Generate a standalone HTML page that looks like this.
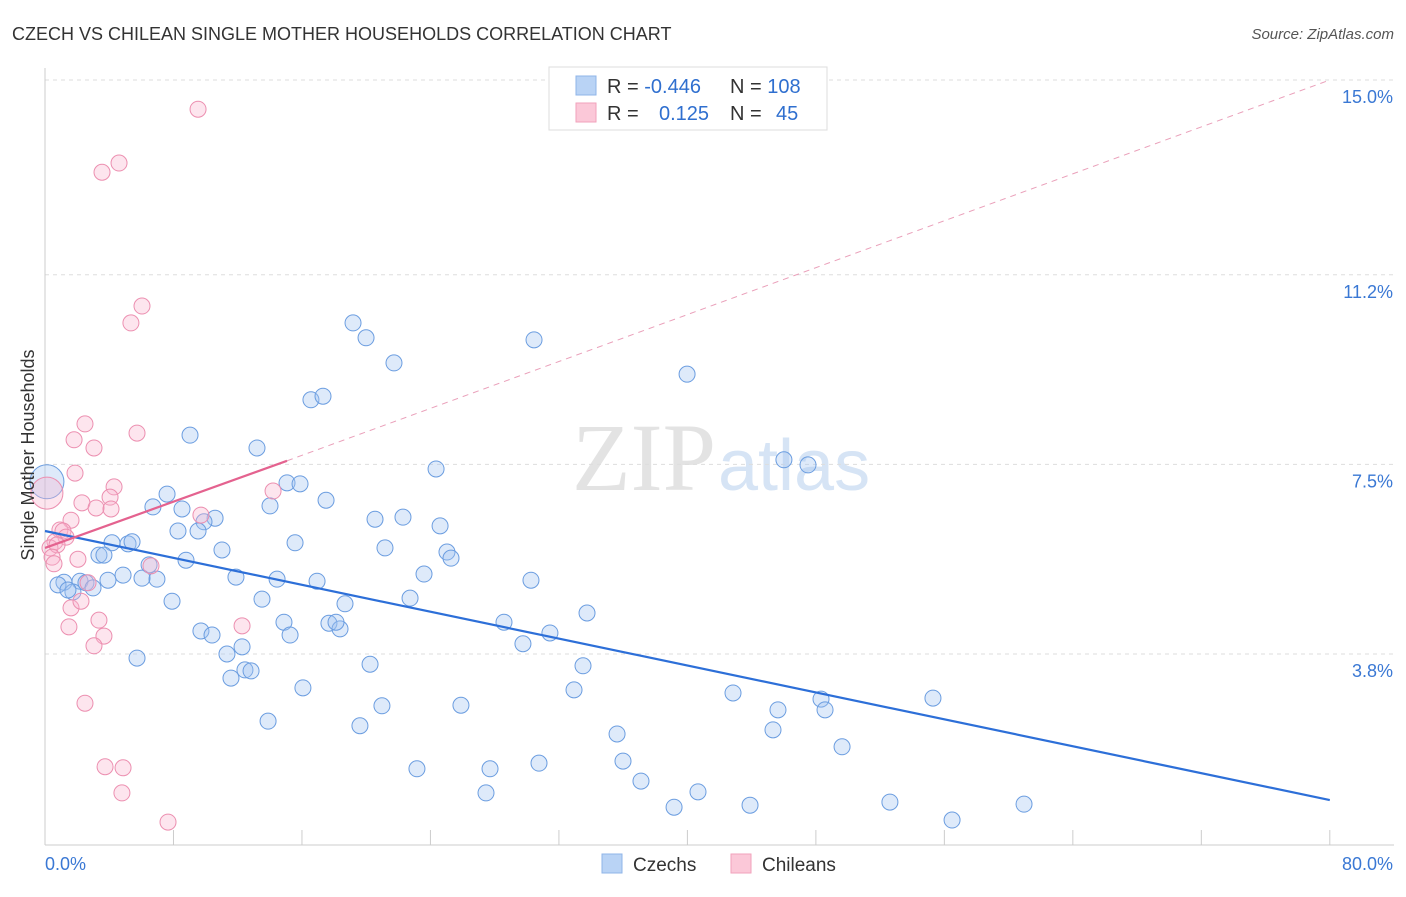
<!DOCTYPE html>
<html><head><meta charset="utf-8"><style>
body{margin:0;background:#fff;font-family:"Liberation Sans",sans-serif}
</style></head><body>
<svg id="chart" width="1406" height="892" xmlns="http://www.w3.org/2000/svg">
<text x="12" y="40" font-size="18" fill="#333">CZECH VS CHILEAN SINGLE MOTHER HOUSEHOLDS CORRELATION CHART</text>
<text x="1394" y="39" font-size="15" fill="#555" text-anchor="end" font-style="italic">Source: ZipAtlas.com</text>
<text x="716" y="490" font-size="96" fill="#e3e3e3" text-anchor="end" font-family="Liberation Serif,serif">ZIP</text>
<text x="718" y="490" font-size="72" fill="#d6e4f5">atlas</text>
<g id="grid"></g><g id="axes"></g><g id="marks"></g>
<text transform="translate(34,455) rotate(-90)" font-size="18" fill="#333" text-anchor="middle">Single Mother Households</text>
<g>
<rect x="549" y="67" width="278" height="63" fill="#fff" stroke="#ddd"/>
<rect x="576" y="76" width="20" height="19" fill="#b9d3f5" stroke="#8fb5e8"/>
<rect x="576" y="103" width="20" height="19" fill="#fbc8d8" stroke="#f1a2bb"/>
<text x="607" y="93" font-size="20" fill="#333">R = <tspan fill="#2f6fcf">-0.446</tspan></text>
<text x="730" y="93" font-size="20" fill="#333">N = <tspan fill="#2f6fcf">108</tspan></text>
<text x="607" y="120" font-size="20" fill="#333">R = </text><text x="659" y="120" font-size="20" fill="#2f6fcf">0.125</text>
<text x="730" y="120" font-size="20" fill="#333">N = </text><text x="776" y="120" font-size="20" fill="#2f6fcf">45</text>
</g>
<g>
<rect x="602" y="854" width="20" height="19" fill="#b9d3f5" stroke="#8fb5e8"/>
<text x="633" y="871" font-size="19" fill="#333">Czechs</text>
<rect x="731" y="854" width="20" height="19" fill="#fbc8d8" stroke="#f1a2bb"/>
<text x="762" y="871" font-size="19" fill="#333">Chileans</text>
</g>
</svg>
<script>
const czechX=[19.18,19.99,21.73,30.45,39.98,16.56,17.31,9.03,13.2,24.35,46.01,47.51,15.07,15.88,7.6,17.5,14.01,6.72,8.53,10.59,9.9,20.55,22.29,24.6,9.53,8.28,15.57,21.17,25.03,25.28,11.02,4.17,5.17,5.42,3.36,3.67,8.78,6.48,4.86,3.92,6.97,6.04,11.89,14.45,16.94,23.6,30.26,1.18,0.81,2.18,2.55,2.99,1.74,1.43,7.91,13.51,18.68,22.73,33.75,14.88,17.68,18.37,18.12,28.58,31.44,9.71,10.4,15.26,29.76,5.73,11.33,12.27,20.24,33.5,11.58,12.45,12.83,16.06,32.94,42.84,48.32,55.29,20.98,25.9,45.64,48.57,13.89,19.61,35.62,45.33,49.63,23.16,27.71,30.76,35.99,37.11,27.46,40.66,39.17,43.9,52.61,60.96,56.48,0.12];
const czechY=[10.26,9.97,9.48,9.93,9.26,8.76,8.83,8.07,7.82,7.41,7.59,7.49,7.14,7.12,6.92,6.8,6.69,6.67,6.63,6.45,6.38,6.43,6.47,6.3,6.2,6.2,5.97,5.87,5.79,5.67,5.83,5.97,5.95,5.99,5.73,5.73,5.63,5.54,5.34,5.24,5.26,5.28,5.3,5.26,5.22,5.36,5.24,5.2,5.15,5.22,5.19,5.09,5.01,5.05,4.83,4.87,4.78,4.89,4.6,4.42,4.4,4.29,4.42,4.42,4.21,4.25,4.17,4.17,4.0,3.72,3.8,3.94,3.6,3.57,3.33,3.49,3.47,3.14,3.1,3.04,2.92,2.94,2.79,2.8,2.71,2.71,2.49,2.4,2.24,2.32,1.99,1.56,1.56,1.67,1.71,1.32,1.09,1.11,0.81,0.85,0.91,0.87,0.56,7.16];
const chileX=[9.53,4.61,3.55,6.04,5.35,2.49,5.73,1.81,3.05,1.87,4.3,4.05,2.3,3.18,4.11,14.2,9.71,1.62,0.93,1.12,1.31,0.62,0.31,0.75,0.44,2.05,0.56,6.6,2.68,1.62,2.24,3.36,1.49,3.67,12.27,3.05,2.49,3.74,4.86,4.79,7.66,0.12];
const chileY=[14.43,13.38,13.2,10.59,10.26,8.29,8.11,7.98,7.82,7.33,7.06,6.86,6.75,6.65,6.63,6.98,6.51,6.41,6.22,6.2,6.08,5.99,5.87,5.93,5.69,5.65,5.56,5.52,5.19,4.7,4.83,4.46,4.33,4.15,4.35,3.96,2.84,1.6,1.58,1.09,0.52,6.94];
const czTrend=[0,6.2,80,0.95];
const clTrend=[0,5.87,15.07,7.57,80,15];
const yTicks=[15.0,11.2,7.5,3.8];
const yTickLabels=["15.0%","11.2%","7.5%","3.8%"];
const xTicks=[0,8,16,24,32,40,48,56,64,72,80];
const NS='http://www.w3.org/2000/svg';
const X=v=>45+v*16.06, Y=v=>80+(15-v)*51.25;
function mk(p,t,a){const e=document.createElementNS(NS,t);for(const k in a)e.setAttribute(k,a[k]);p.appendChild(e);return e;}
const grid=document.getElementById('grid'),axes=document.getElementById('axes'),marks=document.getElementById('marks');
yTicks.forEach((v,i)=>{
 const l=mk(grid,'line',{x1:45,x2:1394,y1:Y(v),y2:Y(v),stroke:'#ddd','stroke-dasharray':'4,4'});
 
 
 const t=mk(axes,'text',{x:1393,y:Y(v)+23,'font-size':18,fill:'#3a78d4','text-anchor':'end'});t.textContent=yTickLabels[i];
 
 
});
const ax=mk(axes,'line',{x1:45,x2:1394,y1:845,y2:845,stroke:'#ccc'});


const ay=mk(axes,'line',{x1:45,x2:45,y1:68,y2:845,stroke:'#ccc'});


xTicks.forEach(v=>{const t=mk(axes,'line',{x1:X(v),x2:X(v),y1:830,y2:845,stroke:'#ccc'});
 
 });
[["0.0%",45,'start'],["80.0%",1393,'end']].forEach(d=>{const t=mk(axes,'text',{x:d[1],y:870,'font-size':18,fill:'#3a78d4','text-anchor':d[2]});t.textContent=d[0];
 
 });
czechX.forEach((v,i)=>{const c=mk(marks,'circle',{cx:X(v),cy:Y(czechY[i]),r:i==czechX.length-1?17:8,fill:'rgba(160,195,240,0.35)',stroke:'#6b9de0','stroke-width':1});
 
 });
chileX.forEach((v,i)=>{const c=mk(marks,'circle',{cx:X(v),cy:Y(chileY[i]),r:i==chileX.length-1?16:8,fill:'rgba(248,180,205,0.35)',stroke:'#ec8fb0','stroke-width':1});
 
 });
let l=mk(marks,'line',{x1:X(czTrend[0]),y1:Y(czTrend[1]),x2:X(czTrend[2]),y2:Y(czTrend[3]),stroke:'#2d6fd8','stroke-width':2.2});


l=mk(marks,'line',{x1:X(clTrend[0]),y1:Y(clTrend[1]),x2:X(clTrend[2]),y2:Y(clTrend[3]),stroke:'#e4628f','stroke-width':2.2});


l=mk(marks,'line',{x1:X(clTrend[2]),y1:Y(clTrend[3]),x2:X(clTrend[4]),y2:Y(clTrend[5]),stroke:'#eaa0ba','stroke-width':1,'stroke-dasharray':'6,5'});


</script>
</body></html>
